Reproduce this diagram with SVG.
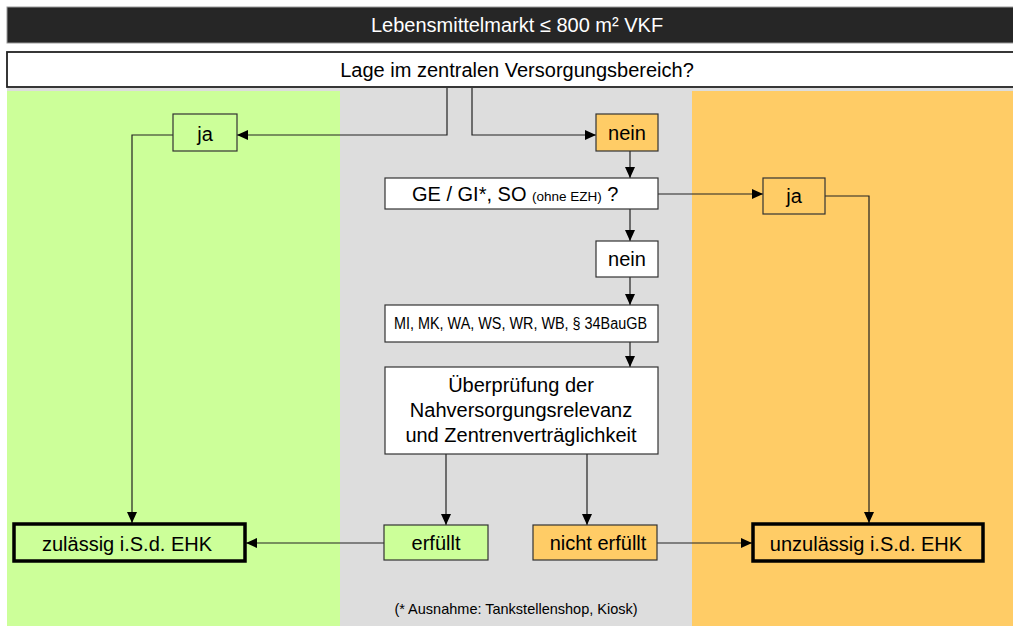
<svg xmlns="http://www.w3.org/2000/svg" width="1013" height="626" viewBox="0 0 1013 626">
<defs>
<marker id="ah" markerUnits="userSpaceOnUse" markerWidth="11" markerHeight="10" refX="11" refY="5" orient="auto">
<path d="M0,0 L11,5 L0,10 z" fill="#000"/>
</marker>
<style>
text{font-family:"Liberation Sans",Arial,sans-serif;fill:#000}
.box{stroke:#333;stroke-width:1.2}
.thick{fill:none;stroke:#000;stroke-width:3.5}
.c{text-anchor:middle}
.t20{font-size:20px}
.conn path{fill:none;stroke:#222;stroke-width:1.2;marker-end:url(#ah)}
.conn path.plain{marker-end:none}
</style>
</defs>
<rect width="1013" height="626" fill="#fff"/>
<!-- bands -->
<rect x="7" y="88" width="1006" height="538" fill="#dddddd"/>
<rect x="7" y="91" width="333" height="535" fill="#ccff99"/>
<rect x="692" y="91" width="321" height="535" fill="#ffcc66"/>

<g id="header">
<rect x="7" y="7" width="1010" height="36" fill="#262626" stroke="#999" stroke-width="1"/>
<text x="517" y="32" class="c t20" style="fill:#fff">Lebensmittelmarkt ≤ 800 m² VKF</text>
</g>
<g id="lage">
<rect x="7" y="52" width="1010" height="35" fill="#fff" stroke="#222" stroke-width="1.8"/>
<text x="517" y="77" class="c t20">Lage im zentralen Versorgungsbereich?</text>
</g>

<g class="conn" id="connectors">
<path d="M447,88 V135 H237"/>
<path d="M173,135 H132 V523"/>
<path d="M472,88 V135 H596"/>
<path d="M630,151 V178"/>
<path d="M658,194 H763"/>
<path d="M825,196 H869 V523"/>
<path d="M630,209 V241"/>
<path d="M630,277 V305"/>
<path d="M630,342 V367"/>
<path d="M446,454 V525"/>
<path d="M587,454 V525"/>
<path d="M384,543 H246"/>
<path d="M657,543 H752"/>
</g>

<g id="ja1">
<rect x="173" y="114" width="64" height="37" fill="#ccff99" class="box"/>
<text x="205" y="141" class="c t20">ja</text>
</g>
<g id="nein1">
<rect x="596" y="114" width="62" height="37" fill="#ffcc66" class="box"/>
<text x="627" y="140" class="c t20">nein</text>
</g>
<g id="ge">
<rect x="385" y="178" width="273" height="31" fill="#fff" class="box"/>
<text x="412" y="201" class="t20">GE / GI*, SO <tspan style="font-size:13.5px">(ohne EZH)</tspan> ?</text>
</g>
<g id="ja2">
<rect x="763" y="178" width="62" height="36" fill="#ffcc66" class="box"/>
<text x="794" y="203" class="c t20">ja</text>
</g>
<g id="nein2">
<rect x="596" y="241" width="62" height="36" fill="#fff" class="box"/>
<text x="627" y="266" class="c t20">nein</text>
</g>
<g id="mi">
<rect x="385" y="305" width="273" height="37" fill="#fff" class="box"/>
<text x="394" y="329" style="font-family:'Liberation Sans Narrow','Liberation Sans',Arial,sans-serif;font-size:16px" textLength="253" lengthAdjust="spacingAndGlyphs">MI, MK, WA, WS, WR, WB, § 34BauGB</text>
</g>
<g id="pruefung">
<rect x="385" y="367" width="273" height="87" fill="#fff" class="box"/>
<text x="521" y="392" class="c t20">Überprüfung der</text>
<text x="521" y="417" class="c t20">Nahversorgungsrelevanz</text>
<text x="521" y="442" class="c t20">und Zentrenverträglichkeit</text>
</g>
<g id="erfuellt">
<rect x="384" y="525" width="104" height="35" fill="#ccff99" class="box"/>
<text x="436" y="550" class="c t20">erfüllt</text>
</g>
<g id="nichterfuellt">
<rect x="533" y="525" width="124" height="35" fill="#ffcc66" class="box"/>
<text x="598" y="550" class="c t20">nicht erfüllt</text>
</g>
<g id="zulaessig">
<rect x="14" y="524" width="231" height="37" class="thick"/>
<text x="127" y="551" class="c t20">zulässig i.S.d. EHK</text>
</g>
<g id="unzulaessig">
<rect x="753" y="524" width="230" height="37" class="thick"/>
<text x="866" y="551" class="c t20">unzulässig i.S.d. EHK</text>
</g>
<text x="516" y="614" class="c" style="font-size:14.5px">(* Ausnahme: Tankstellenshop, Kiosk)</text>
</svg>
